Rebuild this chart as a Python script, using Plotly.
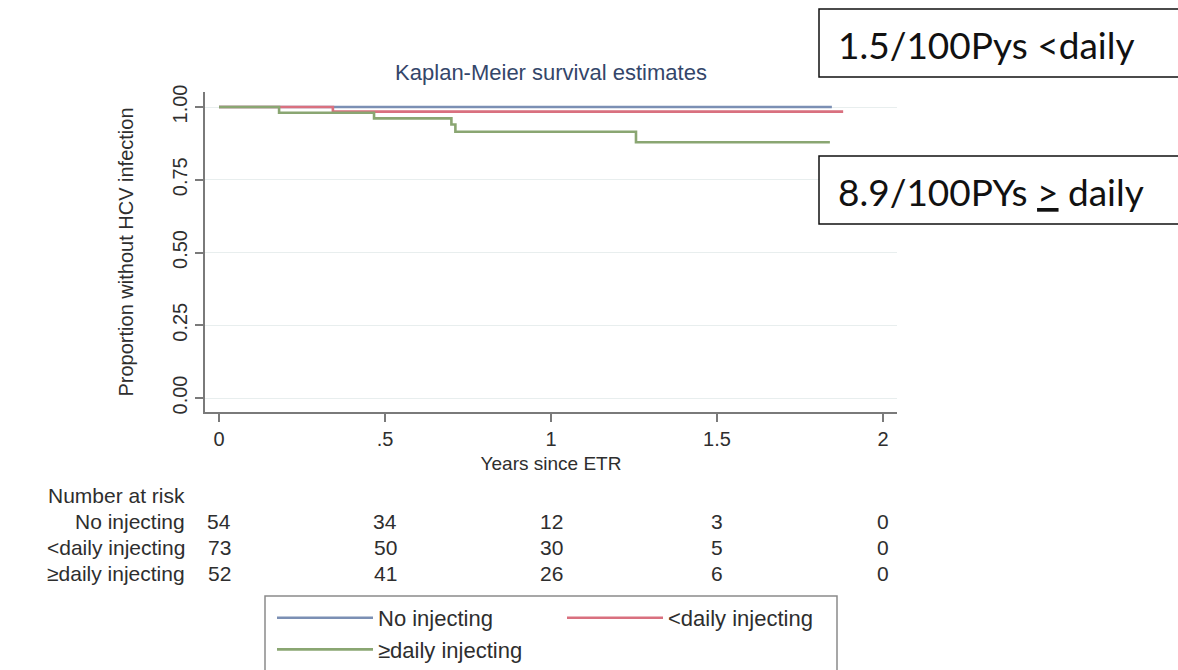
import plotly.graph_objects as go

# ---------------- data ----------------
group_names = ["No injecting", "<daily injecting", "≥daily injecting"]

t_no = [0, 1.846]
s_no = [1.0, 1.0]

t_lt = [0, 0.343, 1.88]
s_lt = [1.0, 0.984, 0.984]

t_ge = [0, 0.181, 0.467, 0.700, 0.712, 1.256, 1.84]
s_ge = [1.0, 0.980, 0.961, 0.940, 0.915, 0.879, 0.879]

risk_times = [0, 0.5, 1, 1.5, 2]
risk_no = [54, 34, 12, 3, 0]
risk_lt = [73, 50, 30, 5, 0]
risk_ge = [52, 41, 26, 6, 0]

x_ticks = [0, 0.5, 1, 1.5, 2]
x_ticktext = ["0", ".5", "1", "1.5", "2"]
y_ticks = [0, 0.25, 0.5, 0.75, 1.0]
y_ticktext = ["0.00", "0.25", "0.50", "0.75", "1.00"]

box_texts = ["1.5/100Pys &lt;daily", "8.9/100PYs <u>&gt;</u> daily"]

colors = ["#7b8fb4", "#d9707f", "#8aa672"]

# ---------------- layout helpers ----------------
W, H = 1178, 670
L, R, T, B = 205, 897, 92, 412


def px(x):
    return (x - L) / (R - L)


def py(y):
    return (B - y) / (B - T)


FONT = "Liberation Sans, Arial, sans-serif"
TXT = "#2e2e2e"

fig = go.Figure()
for t, s, name, c in zip([t_no, t_lt, t_ge], [s_no, s_lt, s_ge], group_names, colors):
    fig.add_trace(go.Scatter(x=t, y=s, mode="lines", name=name,
                             line=dict(color=c, width=2.6, shape="hv"),
                             hoverinfo="skip"))

fig.update_layout(
    width=W, height=H,
    margin=dict(l=L, r=W - R, t=T, b=H - B, autoexpand=False),
    paper_bgcolor="white", plot_bgcolor="white",
    font=dict(family=FONT, color=TXT, size=20),
    title=dict(text="Kaplan-Meier survival estimates", x=px(551), xref="paper",
               y=1 - 72 / H, yref="container", xanchor="center", yanchor="middle",
               font=dict(size=22, color="#34466a", family=FONT)),
    showlegend=True,
    legend=dict(orientation="h", x=px(272), y=py(597), xanchor="left", yanchor="top",
                xref="paper", yref="paper", entrywidth=179, itemwidth=96,
                font=dict(size=22, color=TXT, family=FONT),
                bgcolor="rgba(0,0,0,0)", borderwidth=0, traceorder="normal"),
)

fig.update_xaxes(range=[(L - 219) / 332, (R - 219) / 332], tickvals=x_ticks, ticktext=x_ticktext,
                 showline=True, linecolor="#7a7a7a", linewidth=2, ticks="outside",
                 ticklen=8, tickwidth=1.5, tickcolor="#7a7a7a", showgrid=False, zeroline=False,
                 tickfont=dict(size=20, color=TXT),
                 title=dict(text="Years since ETR", font=dict(size=19, color=TXT), standoff=8))
fig.update_yaxes(range=[(398 - B) / 291, (398 - T) / 291], tickvals=y_ticks, ticktext=y_ticktext,
                 showline=True, linecolor="#7a7a7a", linewidth=2, ticks="outside",
                 ticklen=8, tickwidth=1.5, tickcolor="#7a7a7a", tickangle=-90,
                 showgrid=True, gridcolor="#e8eeee", gridwidth=1, zeroline=False,
                 tickfont=dict(size=20, color=TXT),
                 title=dict(text="Proportion without HCV infection",
                            font=dict(size=20, color=TXT), standoff=30))

# ---------------- number at risk table ----------------
ann = []
ann.append(dict(text="Number at risk", x=px(187), y=py(495), xref="paper", yref="paper",
                xanchor="right", yanchor="middle", showarrow=False,
                font=dict(size=21, color=TXT)))
row_y = [521, 547, 573]
for name, vals, yy in zip(group_names, [risk_no, risk_lt, risk_ge], row_y):
    ann.append(dict(text=name.replace("<", "&lt;"), x=px(187), y=py(yy), xref="paper", yref="paper",
                    xanchor="right", yanchor="middle", showarrow=False,
                    font=dict(size=21, color=TXT)))
    for t, v in zip(risk_times, vals):
        ann.append(dict(text=str(v), x=t, y=py(yy), xref="x", yref="paper",
                        xanchor="center", yanchor="middle", showarrow=False,
                        font=dict(size=21, color=TXT)))

# ---------------- rate boxes ----------------
shapes = []
for text, (y0, y1) in zip(box_texts, [(9, 77), (156, 224)]):
    shapes.append(dict(type="rect", xref="paper", yref="paper",
                       x0=px(819), x1=px(1195), y0=py(y1), y1=py(y0),
                       line=dict(color="#111111", width=1.5), fillcolor="white"))
    ann.append(dict(text=text, x=px(836), y=py((y0 + y1) / 2 + 1), xref="paper", yref="paper",
                    xanchor="left", yanchor="middle", showarrow=False,
                    font=dict(size=37, color="#111111", family="Lato, Open Sans, sans-serif")))

# legend frame
shapes.append(dict(type="rect", xref="paper", yref="paper",
                   x0=px(265), x1=px(837), y0=py(680), y1=py(596),
                   line=dict(color="#8a8a8a", width=1.5), fillcolor="rgba(0,0,0,0)", layer="below"))

fig.update_layout(annotations=ann, shapes=shapes)

fig.write_html("out.html")
